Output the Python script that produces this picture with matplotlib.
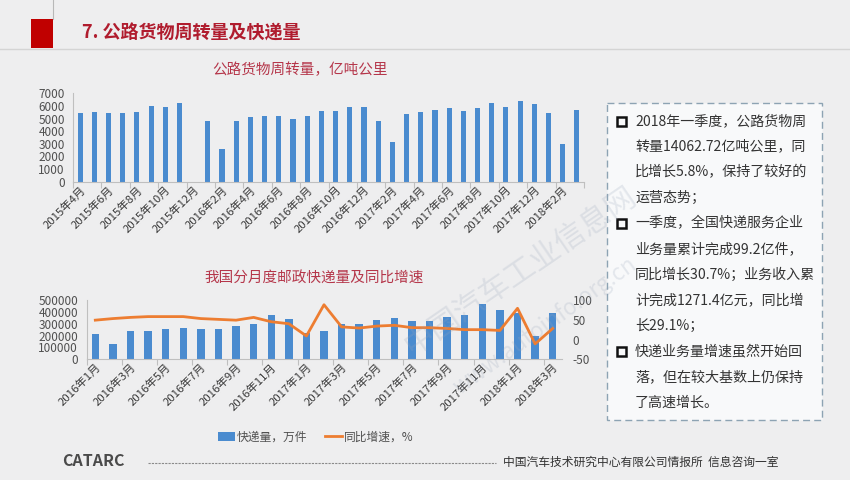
import numpy as np
import matplotlib
matplotlib.use('Agg')
import matplotlib.pyplot as plt
from matplotlib.patches import Rectangle, Patch
from matplotlib.lines import Line2D

plt.rcParams['font.family'] = ['Noto Sans CJK SC', 'DejaVu Sans']

# ---------------- data ----------------
road_months = ['2015年4月', '2015年5月', '2015年6月', '2015年7月', '2015年8月', '2015年9月',
               '2015年10月', '2015年11月', '2015年12月', '2016年1月', '2016年2月', '2016年3月',
               '2016年4月', '2016年5月', '2016年6月', '2016年7月', '2016年8月', '2016年9月',
               '2016年10月', '2016年11月', '2016年12月', '2017年1月', '2017年2月', '2017年3月',
               '2017年4月', '2017年5月', '2017年6月', '2017年7月', '2017年8月', '2017年9月',
               '2017年10月', '2017年11月', '2017年12月', '2018年1月', '2018年2月', '2018年3月']
road_values = [5460, 5510, 5410, 5460, 5540, 5990, 5910, 6200, np.nan,
               4780, 2590, 4830, 5150, 5170, 5170, 4990, 5200, 5620,
               5620, 5940, 5940, 4780, 3170, 5330, 5540, 5700, 5830,
               5620, 5830, 6250, 5940, 6390, 6150, 5410, 2950, 5670]
road_yticks = [0, 1000, 2000, 3000, 4000, 5000, 6000, 7000]

express_months = ['2016年1月', '2016年2月', '2016年3月', '2016年4月', '2016年5月', '2016年6月',
                  '2016年7月', '2016年8月', '2016年9月', '2016年10月', '2016年11月', '2016年12月',
                  '2017年1月', '2017年2月', '2017年3月', '2017年4月', '2017年5月', '2017年6月',
                  '2017年7月', '2017年8月', '2017年9月', '2017年10月', '2017年11月', '2017年12月',
                  '2018年1月', '2018年2月', '2018年3月']
express_volume = [216000, 129000, 239000, 239000, 256000, 264000, 253000, 253000, 284000,
                  300000, 374000, 340000, 219000, 236000, 300000, 295000, 331000, 348000,
                  320000, 326000, 360000, 371000, 469000, 416000, 388000, 199000, 390000]
express_growth = [49, 53, 56, 58, 58, 58, 53, 51, 49, 56, 45, 40,
                  9, 88, 32, 29, 34, 36, 30, 30, 28, 25, 25, 23,
                  79, -11, 28]
express_yticks = [0, 100000, 200000, 300000, 400000, 500000]
growth_yticks = [-50, 0, 50, 100]

page_title = '7. 公路货物周转量及快递量'
road_title = '公路货物周转量，亿吨公里'
express_title = '我国分月度邮政快递量及同比增速'
legend_labels = ['快递量，万件', '同比增速，%']
bullets = [
    ['2018年一季度，公路货物周', '转量14062.72亿吨公里，同', '比增长5.8%，保持了较好的', '运营态势；'],
    ['一季度，全国快递服务企业', '业务量累计完成99.2亿件，', '同比增长30.7%；业务收入累', '计完成1271.4亿元，同比增', '长29.1%；'],
    ['快递业务量增速虽然开始回', '落，但在较大基数上仍保持', '了高速增长。'],
]
footer_text = '中国汽车技术研究中心有限公司情报所  信息咨询一室'

# ---------------- styling ----------------
W, H = 850, 480
BG = '#eeeeef'
BAR = '#4a8bcf'
LINE = '#ed7d31'
AXC = '#bfbfbf'
TICKC = '#505050'
XTICKC = '#3a3a3a'
TITLEC = '#b5364a'

fig = plt.figure(figsize=(W / 100, H / 100), dpi=100, facecolor=BG)

# background / decoration layer in pixel coordinates
bg = fig.add_axes([0, 0, 1, 1], zorder=0)
bg.set_xlim(0, W)
bg.set_ylim(H, 0)
bg.axis('off')

# header
bg.add_patch(Rectangle((31, 19), 22, 29, facecolor='#c00000', edgecolor='none'))
bg.plot([53, 53], [0, 19], color='#b8b8b8', lw=0.8)
bg.plot([0, W], [48.5, 48.5], color='#d4d4d4', lw=1.0)
bg.text(82, 33, page_title, fontsize=13, fontweight='bold', color='#b01c2e', va='center', ha='left')

# text box
bg.add_patch(Rectangle((607, 103), 215, 317, facecolor='#f8f9fa', edgecolor='#8da3b3',
                       lw=1.0, linestyle=(0, (5, 3))))
y = 121
for group in bullets:
    bg.add_patch(Rectangle((617, y - 4.5), 9, 9, facecolor='none', edgecolor='#111111', lw=1.8))
    for line in group:
        bg.text(635, y, line, fontsize=10.1, color='#333333', va='center', ha='left')
        y += 25.6

# footer
bg.text(62, 461, 'CATARC', fontsize=11.5, fontweight='heavy', color='#4a4a4a', va='center', ha='left')
bg.plot([148, 496], [462.5, 462.5], color='#8a8a8a', lw=0.8, linestyle=(0, (2, 1)))
bg.text(503, 462, footer_text, fontsize=8.5, color='#333333', va='center', ha='left')

# chart titles
bg.text(300, 70, road_title, fontsize=10.5, color=TITLEC, va='center', ha='center')
bg.text(314, 278, express_title, fontsize=10.5, color=TITLEC, va='center', ha='center')


def style_axis(ax):
    ax.set_facecolor('none')
    for s in ['top', 'right']:
        ax.spines[s].set_visible(False)
    for s in ['left', 'bottom']:
        ax.spines[s].set_color(AXC)
        ax.spines[s].set_linewidth(0.8)
    ax.tick_params(axis='y', colors=AXC, labelcolor=TICKC, length=0, pad=6)
    ax.tick_params(axis='x', which='major', length=0, labelcolor=XTICKC, pad=2)
    ax.tick_params(axis='x', which='minor', length=4, color=AXC, width=0.8)


# ---------------- top chart ----------------
ax1 = fig.add_axes([73 / W, 1 - 181.7 / H, 511 / W, (181.7 - 93.3) / H], zorder=2)
x1 = np.arange(len(road_months))
ax1.bar(x1, road_values, width=0.36, color=BAR)
ax1.set_xlim(-0.5, len(road_months) - 0.5)
ax1.set_ylim(0, 7000)
ax1.set_yticks(road_yticks)
ax1.set_yticklabels([str(v) for v in road_yticks], fontsize=8.5)
ax1.set_xticks(x1[::2])
ax1.set_xticklabels(road_months[::2], rotation=45, ha='right', rotation_mode='anchor', fontsize=8.2)
ax1.set_xticks(np.arange(-0.5, len(road_months), 2), minor=True)
style_axis(ax1)

# ---------------- bottom chart ----------------
ax2 = fig.add_axes([86.5 / W, 1 - 359.3 / H, 475 / W, 59.3 / H], zorder=2)
x2 = np.arange(len(express_months))
bars = ax2.bar(x2, express_volume, width=0.42, color=BAR)
ax2.set_xlim(-0.5, len(express_months) - 0.5)
ax2.set_ylim(0, 500000)
ax2.set_yticks(express_yticks)
ax2.set_yticklabels([str(v) for v in express_yticks], fontsize=8.5)
ax2.set_xticks(x2[::2])
ax2.set_xticklabels(express_months[::2], rotation=45, ha='right', rotation_mode='anchor', fontsize=8.2)
ax2.set_xticks(np.arange(-0.5, len(express_months), 2), minor=True)
style_axis(ax2)

ax3 = ax2.twinx()
ax3.set_zorder(3)
ax3.plot(x2, express_growth, color=LINE, lw=2.0)
ax3.set_ylim(-50, 100)
ax3.set_yticks(growth_yticks)
ax3.set_yticklabels([str(v) for v in growth_yticks], fontsize=8.5)
for s in ['top', 'left', 'bottom', 'right']:
    ax3.spines[s].set_visible(False)
ax3.tick_params(axis='y', length=0, labelcolor=TICKC, pad=8)

handles = [Patch(facecolor=BAR, edgecolor='none'), Line2D([0], [0], color=LINE, lw=2)]
fig.legend(handles, legend_labels, loc='center', bbox_to_anchor=(316 / W, 1 - 437 / H),
           ncol=2, frameon=False, fontsize=8.5, labelcolor=TICKC, handlelength=1.4,
           handletextpad=0.2, columnspacing=1.5)

# watermark
fig.text(520 / W, 1 - 272 / H, '中国汽车工业信息网', fontsize=22, rotation=34.5, color='#9aa6bb',
         alpha=0.22, ha='center', va='center', zorder=10)
fig.text(545 / W, 1 - 326 / H, 'www.autoinfo.org.cn', fontsize=16, rotation=35.5, color='#9aa6bb',
         alpha=0.22, ha='center', va='center', zorder=10)

fig.savefig('out.png', dpi=100, facecolor=BG)
